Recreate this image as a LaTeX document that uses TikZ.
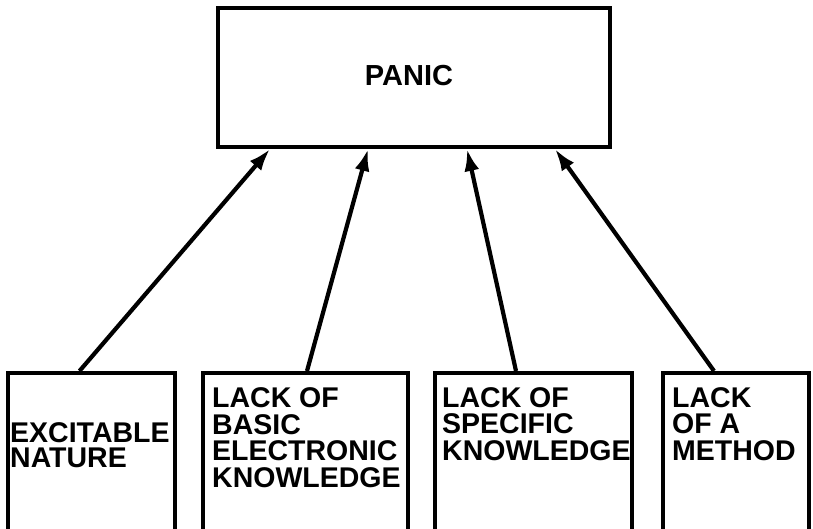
\documentclass[tikz,border=0pt]{standalone}
\usepackage{fontspec}
\setmainfont{Liberation Sans}
\usetikzlibrary{arrows.meta}
\begin{document}
\begin{tikzpicture}[x=1pt,y=-1pt,
  box/.style={draw=black,line width=4pt,rectangle,inner sep=0pt},
  lbl/.style={inner sep=0pt,anchor=base west,align=left,font=\fontsize{28.5}{26.5}\selectfont\bfseries},
  arr/.style={line width=4.2pt,-{Latex[length=22pt,width=15pt]}}]
\useasboundingbox (0,0) rectangle (813,528);
\clip (0,0) rectangle (813,528);
\node[box,minimum width=392pt,minimum height=139pt] (top) at (414,77.5) {};
\node[inner sep=0pt,font=\fontsize{29}{30}\selectfont\bfseries] (tp) at (409,76) {PANIC};
\node[box,minimum width=167pt,minimum height=167pt] (b1) at (91.5,456.5) {};
\node[box,minimum width=205pt,minimum height=167pt] (b2) at (305.5,456.5) {};
\node[box,minimum width=197pt,minimum height=167pt] (b3) at (533.5,456.5) {};
\node[box,minimum width=146pt,minimum height=167pt] (b4) at (736,456.5) {};
\node[lbl,font=\fontsize{28.5}{25}\selectfont\bfseries] (t1) at (10,467) {EXCITABLE\\NATURE};
\node[lbl] (t2) at (212,487) {LACK OF\\BASIC\\ELECTRONIC\\KNOWLEDGE};
\node[lbl] (t3) at (442,460) {LACK OF\\SPECIFIC\\KNOWLEDGE};
\node[lbl] (t4) at (672,460) {LACK\\OF A\\METHOD};
\draw[arr] ([xshift=-12pt]b1.north) -- ([xshift=-144pt]top.south);
\draw[arr] ([xshift=1.5pt]b2.north) -- ([xshift=-46pt]top.south);
\draw[arr] ([xshift=-17.5pt]b3.north) -- ([xshift=53pt]top.south);
\draw[arr] ([xshift=-22pt]b4.north) -- ([xshift=141pt]top.south);
\end{tikzpicture}
\end{document}
